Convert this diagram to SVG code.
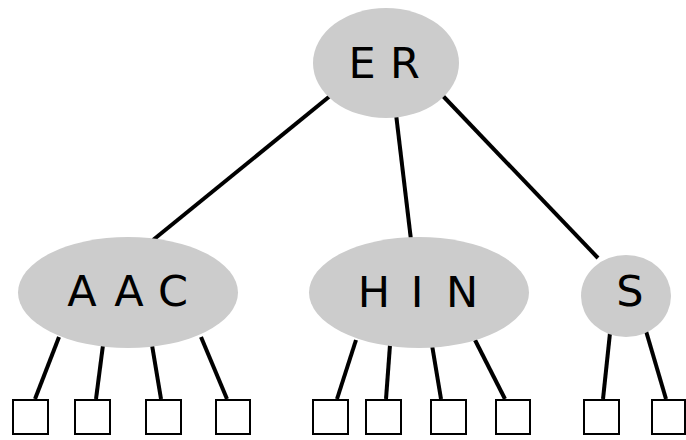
<svg xmlns="http://www.w3.org/2000/svg" width="686" height="440" viewBox="0 0 686 440">
<style>
.node{fill:#cccccc;stroke:none}
.lbl{font-family:"DejaVu Sans","Liberation Sans",sans-serif;font-size:43px;fill:#000;text-anchor:middle}
.edge{stroke:#000;stroke-width:4;fill:none}
.leaf{fill:#fff;stroke:#000;stroke-width:2}
</style>
<rect width="686" height="440" fill="#fff"/>
<g id="connectors">
<line class="edge" x1="330" y1="96" x2="153" y2="240"/>
<line class="edge" x1="396" y1="114" x2="411" y2="240"/>
<line class="edge" x1="443" y1="96" x2="598" y2="258"/>
<line class="edge" x1="59" y1="337" x2="35" y2="399"/>
<line class="edge" x1="103" y1="345" x2="96" y2="399"/>
<line class="edge" x1="152" y1="345" x2="161" y2="399"/>
<line class="edge" x1="201" y1="337" x2="227" y2="399"/>
<line class="edge" x1="356" y1="340" x2="337" y2="399"/>
<line class="edge" x1="390" y1="345" x2="386" y2="399"/>
<line class="edge" x1="432" y1="345" x2="441" y2="399"/>
<line class="edge" x1="475" y1="340" x2="505" y2="399"/>
<line class="edge" x1="610" y1="333" x2="603" y2="399"/>
<line class="edge" x1="646" y1="331" x2="666" y2="399"/>
</g>
<g id="node-ER">
<ellipse class="node" cx="386" cy="63" rx="73" ry="55"/>
<text class="lbl" x="362 405" y="78">ER</text>
</g>
<g id="node-AAC">
<ellipse class="node" cx="128" cy="292.5" rx="110" ry="55.5"/>
<text class="lbl" x="82 129 173" y="306">AAC</text>
</g>
<g id="node-HIN">
<ellipse class="node" cx="419" cy="292.5" rx="110" ry="55.5"/>
<text class="lbl" x="374 417 462" y="307">HIN</text>
</g>
<g id="node-S">
<ellipse class="node" cx="626" cy="296" rx="45" ry="41"/>
<text class="lbl" x="630" y="306">S</text>
</g>
<g id="leaf-1"><rect class="leaf" x="13" y="400" width="35" height="34"/></g>
<g id="leaf-2"><rect class="leaf" x="75" y="400" width="35" height="34"/></g>
<g id="leaf-3"><rect class="leaf" x="146" y="400" width="35" height="34"/></g>
<g id="leaf-4"><rect class="leaf" x="216" y="400" width="34" height="34"/></g>
<g id="leaf-5"><rect class="leaf" x="313" y="400" width="35" height="34"/></g>
<g id="leaf-6"><rect class="leaf" x="366" y="400" width="35" height="34"/></g>
<g id="leaf-7"><rect class="leaf" x="431" y="400" width="35" height="34"/></g>
<g id="leaf-8"><rect class="leaf" x="496" y="400" width="34" height="34"/></g>
<g id="leaf-9"><rect class="leaf" x="584" y="400" width="35" height="34"/></g>
<g id="leaf-10"><rect class="leaf" x="652" y="400" width="33" height="34"/></g>
</svg>
